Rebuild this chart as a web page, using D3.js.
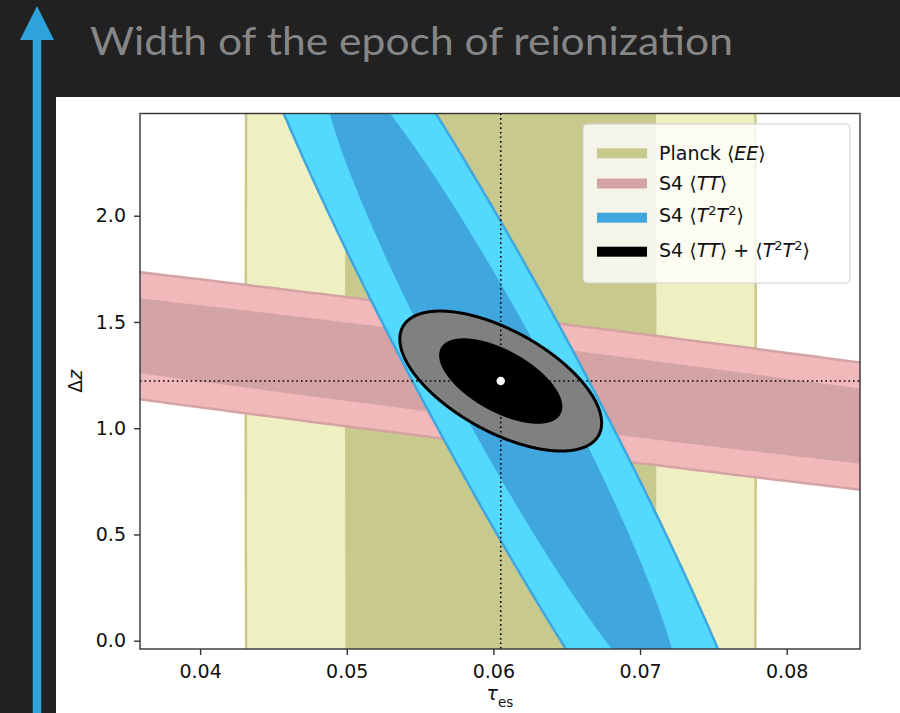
<!DOCTYPE html>
<html>
<head>
<meta charset="utf-8">
<script src="https://cdn.jsdelivr.net/npm/d3@7"></script>
<style>
  html, body { margin: 0; padding: 0; background: #212121; }
  svg { display: block; }
</style>
</head>
<body>
<script>
// Fiducial model (tau_es, Δz)
const fiducialTau = 0.0605;
const fiducialDz = 1.222;

// Gaussian forecasts in the (tau_es, Δz) plane
const forecastNames = ["Planck EE", "S4 TT", "S4 T2T2", "S4 TT + T2T2"];
const sigmaTau = [0.007, 0.05, 0.008025, 0.00277];
const sigmaDz = [10, 0.45, 1.002, 0.1326];
const corrTauDz = [0, -0.962, -0.9534, -0.60];

// Δχ² for the 68% and 95% regions of a two-parameter Gaussian
const chi2Levels = [2.30, 6.17];

// Fill colours: [68% region, 95% region]
const innerColors = ["#c8c98c", "#d4a3a4", "#3fa7de", "#000000"];
const outerColors = ["#eef0c1", "#f2b9bb", "#53d9fd", "#808080"];

const xTicks = [0.04, 0.05, 0.06, 0.07, 0.08];
const yTicks = [0.0, 0.5, 1.0, 1.5, 2.0];
const xDomain = [0.0359, 0.085];
const yDomain = [-0.039, 2.481];

// Legend entries as text runs (i = italic, sup = superscript)
const legendLabels = [
  [{t: "Planck "}, {t: "\u27E8"}, {t: "EE", i: true}, {t: "\u27E9"}],
  [{t: "S4 "}, {t: "\u27E8"}, {t: "TT", i: true}, {t: "\u27E9"}],
  [{t: "S4 "}, {t: "\u27E8"}, {t: "T", i: true}, {t: "2", sup: true}, {t: "T", i: true}, {t: "2", sup: true}, {t: "\u27E9"}],
  [{t: "S4 "}, {t: "\u27E8"}, {t: "TT", i: true}, {t: "\u27E9 + \u27E8"}, {t: "T", i: true}, {t: "2", sup: true}, {t: "T", i: true}, {t: "2", sup: true}, {t: "\u27E9"}]
];

const W = 900, H = 713;
const svg = d3.select("body").append("svg").attr("width", W).attr("height", H);
svg.append("rect").attr("width", W).attr("height", H).attr("fill", "#212121");

// Slide heading
svg.append("text")
  .attr("x", 90).attr("y", 55)
  .attr("font-family", "Lato, 'Open Sans', sans-serif")
  .attr("font-size", 39)
  .attr("fill", "#868686")
  .attr("textLength", 643)
  .attr("lengthAdjust", "spacingAndGlyphs")
  .text("Width of the epoch of reionization");

// Vertical arrow at the left edge
svg.append("line").attr("x1", 37).attr("x2", 37).attr("y1", 38).attr("y2", H)
  .attr("stroke", "#2fa3dc").attr("stroke-width", 8.5);
svg.append("path").attr("d", "M37,6 L20,40 L54,40 Z").attr("fill", "#2fa3dc");

// White figure panel
svg.append("rect").attr("x", 56).attr("y", 97).attr("width", W - 56).attr("height", H - 97).attr("fill", "#ffffff");

const plot = {left: 140, right: 860, top: 113.5, bottom: 649};
const x = d3.scaleLinear().domain(xDomain).range([plot.left, plot.right]);
const y = d3.scaleLinear().domain(yDomain).range([plot.bottom, plot.top]);

svg.append("clipPath").attr("id", "plot-clip")
  .append("rect").attr("x", plot.left).attr("y", plot.top)
  .attr("width", plot.right - plot.left).attr("height", plot.bottom - plot.top);

const area = svg.append("g").attr("clip-path", "url(#plot-clip)");

// Contour of constant Δχ² for forecast i
function contour(i, chi2) {
  const k = Math.sqrt(chi2);
  const sx = sigmaTau[i], sy = sigmaDz[i], r = corrTauDz[i];
  const n = 1440;
  return d3.range(n).map(j => {
    const t = 2 * Math.PI * j / n;
    const u = Math.cos(t), v = Math.sin(t);
    return [fiducialTau + k * sx * u,
            fiducialDz + k * (r * sy * u + sy * Math.sqrt(1 - r * r) * v)];
  });
}
const line = d3.line().x(d => x(d[0])).y(d => y(d[1])).curve(d3.curveLinearClosed);

forecastNames.forEach((name, i) => {
  const g = area.append("g").attr("class", "forecast");
  g.append("path")
    .attr("d", line(contour(i, chi2Levels[1])))
    .attr("fill", outerColors[i])
    .attr("stroke", innerColors[i])
    .attr("stroke-width", i === 3 ? 3 : 2.5)
    .attr("stroke-linejoin", "round");
  g.append("path")
    .attr("d", line(contour(i, chi2Levels[0])))
    .attr("fill", innerColors[i]);
});

// Fiducial cross-hair
area.append("line")
  .attr("x1", x(fiducialTau)).attr("x2", x(fiducialTau))
  .attr("y1", plot.top).attr("y2", plot.bottom)
  .attr("stroke", "#000").attr("stroke-width", 1.6).attr("stroke-dasharray", "1.6,3");
area.append("line")
  .attr("x1", plot.left).attr("x2", plot.right)
  .attr("y1", y(fiducialDz)).attr("y2", y(fiducialDz))
  .attr("stroke", "#000").attr("stroke-width", 1.6).attr("stroke-dasharray", "1.6,3");
area.append("circle")
  .attr("cx", x(fiducialTau)).attr("cy", y(fiducialDz)).attr("r", 4.2)
  .attr("fill", "#ffffff");

// Axes
const fontFamily = "'DejaVu Sans', sans-serif";
const xAxis = svg.append("g").attr("transform", `translate(0,${plot.bottom})`)
  .call(d3.axisBottom(x).tickValues(xTicks).tickFormat(d3.format(".2f")).tickSize(6).tickPadding(10).tickSizeOuter(0));
const yAxis = svg.append("g").attr("transform", `translate(${plot.left},0)`)
  .call(d3.axisLeft(y).tickValues(yTicks).tickFormat(d3.format(".1f")).tickSize(6).tickPadding(8).tickSizeOuter(0));
[xAxis, yAxis].forEach(a => {
  a.select(".domain").remove();
  a.selectAll(".tick line").attr("stroke", "#333").attr("stroke-width", 1.4);
  a.selectAll(".tick text").attr("fill", "#111").attr("font-size", 19).attr("font-family", fontFamily);
});

svg.append("rect")
  .attr("x", plot.left).attr("y", plot.top)
  .attr("width", plot.right - plot.left).attr("height", plot.bottom - plot.top)
  .attr("fill", "none").attr("stroke", "#333").attr("stroke-width", 1.4);

// Axis labels
const xl = svg.append("text")
  .attr("x", (plot.left + plot.right) / 2).attr("y", 700)
  .attr("text-anchor", "middle").attr("font-family", fontFamily).attr("font-size", 19).attr("fill", "#111");
xl.append("tspan").attr("font-style", "italic").text("\u03C4");
xl.append("tspan").attr("font-size", 13.5).attr("dy", 7).text("es");

const yl = svg.append("text")
  .attr("transform", `translate(81.5,${(plot.top + plot.bottom) / 2}) rotate(-90)`)
  .attr("text-anchor", "middle").attr("font-family", fontFamily).attr("font-size", 19).attr("fill", "#111");
yl.append("tspan").text("\u0394");
yl.append("tspan").attr("font-style", "italic").text("z");

// Legend
const legend = svg.append("g");
legend.append("rect")
  .attr("x", 583).attr("y", 124).attr("width", 267).attr("height", 159).attr("rx", 4)
  .attr("fill", "#ffffff").attr("fill-opacity", 0.8)
  .attr("stroke", "#d0d0d0").attr("stroke-width", 1);
const patchY = [153.3, 183.5, 217.7, 251.7];
const textY = [159.5, 190, 221.7, 256.7];
legendLabels.forEach((runs, i) => {
  legend.append("rect")
    .attr("x", 597).attr("y", patchY[i] - 5).attr("width", 50).attr("height", 10)
    .attr("fill", innerColors[i]);
  const t = legend.append("text")
    .attr("x", 659).attr("y", textY[i])
    .attr("font-family", fontFamily).attr("font-size", 19).attr("fill", "#111");
  runs.forEach((r, j) => {
    const prevSup = j > 0 && runs[j - 1].sup;
    const s = t.append("tspan").text(r.t);
    if (r.i) s.attr("font-style", "italic");
    if (r.sup) s.attr("font-size", 13).attr("dy", -7);
    else if (prevSup) s.attr("dy", 7);
  });
});
</script>
</body>
</html>
